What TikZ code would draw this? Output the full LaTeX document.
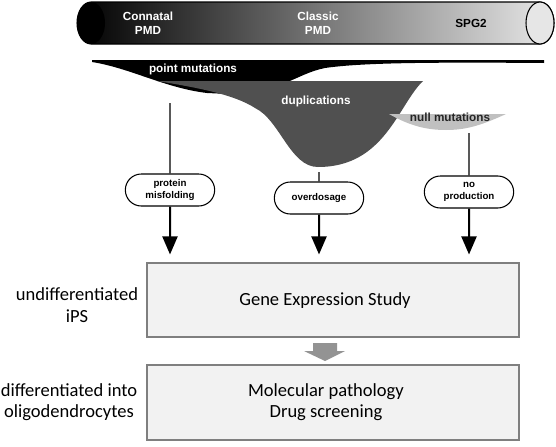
\documentclass[tikz,border=0pt]{standalone}
\usepackage{fontspec}
\setmainfont{Liberation Sans}
\newfontfamily\calfont{Carlito}
\usetikzlibrary{arrows.meta,shapes.misc,shadows}
\definecolor{dupgray}{HTML}{505050}
\definecolor{nullgray}{HTML}{C0C0C0}
\definecolor{boxfill}{HTML}{F2F2F2}
\definecolor{boxline}{HTML}{7F7F7F}
\definecolor{blockgray}{HTML}{939393}
\definecolor{capgray}{HTML}{E6E6E6}
\begin{document}
\begin{tikzpicture}[x=0.75pt,y=-0.75pt,
 toplabel/.style={font=\fontsize{8.8}{10.5}\selectfont\bfseries, align=center, inner sep=0pt},
 oval/.style={draw, line width=0.8pt, rounded rectangle, minimum width=69pt, minimum height=24pt, inner sep=1pt, align=center, font=\fontsize{7.3}{9}\selectfont\bfseries, fill=white},
 bigbox/.style={draw=boxline, line width=0.8pt, fill=boxfill, minimum width=279pt, drop shadow={shadow xshift=0.8pt, shadow yshift=-0.8pt, fill=black!40}},
 boxtext/.style={align=center, font=\calfont\fontsize{13.9}{15.5}\selectfont, inner sep=0pt},
 sidelabel/.style={align=center, font=\calfont\fontsize{13.9}{16}\selectfont, inner sep=0pt},
 thinline/.style={line width=1pt},
 arr/.style={line width=1.5pt, shorten >=6pt, -{Triangle[width=11.25pt,length=13.5pt]}},
]
\useasboundingbox (0,0) rectangle (556,446);

% cylinder
\shade[left color=black, right color=gray!18]
  (91,2) -- (540,2) arc[start angle=90, end angle=-90, x radius=10.5pt, y radius=15.75pt]
  -- (91,44) arc[start angle=270, end angle=90, x radius=10.5pt, y radius=15.75pt] -- cycle;
\draw[line width=0.8pt]
  (91,2) -- (540,2) arc[start angle=90, end angle=-90, x radius=10.5pt, y radius=15.75pt]
  -- (91,44) arc[start angle=270, end angle=90, x radius=10.5pt, y radius=15.75pt] -- cycle;
\fill[black] (91,23) ellipse [x radius=10.5pt, y radius=15.75pt];
\draw[line width=0.8pt, fill=capgray] (540,23) ellipse [x radius=10.5pt, y radius=15.75pt];
\node[toplabel, text=white] (connatal) at (148,23) {Connatal\\PMD};
\node[toplabel, text=white] (classic) at (318,23) {Classic\\PMD};
\node[toplabel, text=black] (spg) at (471,23) {SPG2};

% point mutations band
\fill[black] (92,60) -- (544,60) -- (544,63)
  .. controls (420,62) and (360,63) .. (325,68)
  .. controls (310,71) and (300,77) .. (285,83)
  -- (250,95) -- (207,93)
  .. controls (165,88) and (130,68) .. (92,62) -- cycle;
% duplications
\fill[dupgray] (157,81) -- (423,81)
  .. controls (398,105) and (385,167) .. (318,167)
  .. controls (290,167) and (280,120) .. (255,108)
  .. controls (235,95) and (200,88) .. (157,81) -- cycle;
% null mutations
\fill[nullgray] (389,114) -- (506,114)
  .. controls (480,126) and (465,130) .. (446,130)
  .. controls (427,130) and (410,126) .. (389,114) -- cycle;

\node[toplabel, text=white] (pm) at (193,69) {point mutations};
\node[toplabel, text=white] (dup) at (316,101) {duplications};
\node[toplabel, text=black!85] (nm) at (450,117) {null mutations};

% ovals
\node[oval] (o1) at (170,190) {protein\\misfolding};
\node[oval] (o2) at (319,198) {overdosage};
\node[oval] (o3) at (469,192) {no\\production};

\coordinate (s1) at (170,103);
\coordinate (s2) at (319,172);
\coordinate (s3) at (469,133);
\draw[thinline] (s1) -- (o1);
\draw[thinline] (s2) -- (o2);
\draw[thinline] (s3) -- (o3);

% boxes
\node[bigbox, minimum height=55.5pt] (gbox) at (333,300) {};
\node[bigbox, minimum height=56.25pt] (mbox) at (333,402.5) {};
\node[boxtext] (gtext) at (325,301) {Gene Expression Study};
\node[boxtext] (mtext) at (326,402) {Molecular pathology\\Drug screening};

\draw[arr] (o1) -- (o1 |- gbox.north);
\draw[arr] (o2) -- (o2 |- gbox.north);
\draw[arr] (o3) -- (o3 |- gbox.north);

% block arrow
\fill[blockgray] (313,343) -- (337,343) -- (337,351) -- (345,351) -- (325,361) -- (304,351) -- (313,351) -- cycle;

% side labels
\node[sidelabel] (l1) at (77,305) {undifferentiated\\iPS};
\node[sidelabel] (l2) at (69,402) {differentiated into\\oligodendrocytes};
\end{tikzpicture}
\end{document}
